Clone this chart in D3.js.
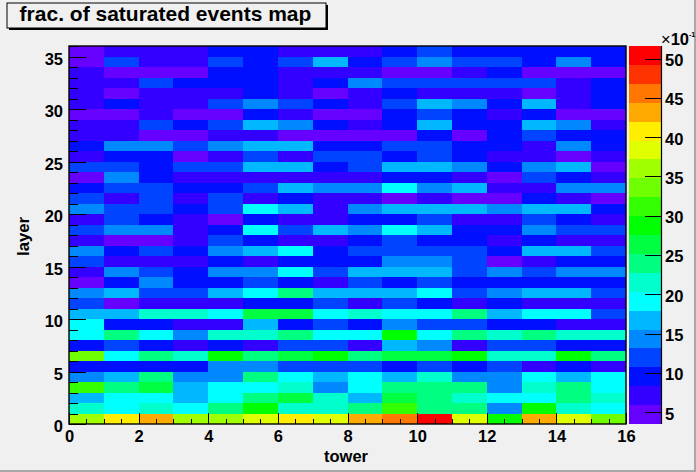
<!DOCTYPE html>
<html lang="en">

<head>
    <title>frac. of saturated events map</title>
    <meta charset="utf-8">
    <script src="https://d3js.org/d3.v7.min.js"></script>
    <style>
        html, body { margin: 0; padding: 0; background: #f0f0f0; overflow: hidden; }
        svg { display: block; }
        text { font-family: "Liberation Sans", Arial, sans-serif; font-weight: bold; fill: #000; }
    </style>
</head>

<body>
    <div id="container1"></div>
    <script>
        // Data: one row per layer, from layer 35 at the top down to layer 0 (x 10^-1)
        const layerValues = [
            [4.7, 7.1, 7.1, 7.1, 9.5, 9.5, 7.1, 7.1, 7.1, 9.5, 11.9, 9.5, 9.5, 9.5, 9.5, 9.5],
            [4.7, 11.9, 7.1, 7.1, 11.9, 9.5, 11.9, 16.7, 9.5, 11.9, 14.3, 11.9, 11.9, 9.5, 14.3, 9.5],
            [7.1, 4.7, 4.7, 4.7, 9.5, 9.5, 7.1, 7.1, 7.1, 4.7, 4.7, 7.1, 9.5, 4.7, 4.7, 4.7],
            [7.1, 7.1, 11.9, 9.5, 9.5, 9.5, 7.1, 9.5, 14.3, 11.9, 11.9, 11.9, 11.9, 11.9, 7.1, 9.5],
            [7.1, 4.7, 7.1, 7.1, 7.1, 9.5, 7.1, 4.7, 7.1, 9.5, 7.1, 7.1, 7.1, 4.7, 7.1, 9.5],
            [7.1, 9.5, 7.1, 7.1, 11.9, 14.3, 11.9, 9.5, 7.1, 11.9, 16.7, 14.3, 9.5, 16.7, 7.1, 9.5],
            [4.7, 4.7, 7.1, 4.7, 4.7, 9.5, 7.1, 4.7, 4.7, 9.5, 11.9, 9.5, 7.1, 9.5, 4.7, 4.7],
            [7.1, 7.1, 11.9, 9.5, 11.9, 16.7, 14.3, 9.5, 7.1, 9.5, 16.7, 9.5, 9.5, 16.7, 14.3, 7.1],
            [7.1, 7.1, 4.7, 4.7, 7.1, 7.1, 4.7, 4.7, 4.7, 4.7, 9.5, 4.7, 9.5, 11.9, 9.5, 9.5],
            [9.5, 14.3, 14.3, 11.9, 14.3, 16.7, 16.7, 9.5, 9.5, 11.9, 11.9, 9.5, 9.5, 7.1, 14.3, 9.5],
            [7.1, 9.5, 9.5, 4.7, 7.1, 11.9, 7.1, 11.9, 11.9, 9.5, 11.9, 9.5, 7.1, 7.1, 4.7, 7.1],
            [11.9, 11.9, 9.5, 11.9, 11.9, 16.7, 16.7, 9.5, 11.9, 16.7, 16.7, 14.3, 9.5, 14.3, 16.7, 4.7],
            [4.7, 14.3, 9.5, 7.1, 7.1, 7.1, 7.1, 7.1, 7.1, 9.5, 9.5, 7.1, 4.7, 11.9, 9.5, 7.1],
            [9.5, 11.9, 11.9, 9.5, 9.5, 11.9, 16.7, 14.3, 14.3, 19.1, 14.3, 16.7, 7.1, 7.1, 14.3, 14.3],
            [11.9, 7.1, 11.9, 7.1, 11.9, 7.1, 9.5, 7.1, 7.1, 4.7, 7.1, 4.7, 4.7, 9.5, 7.1, 4.7],
            [14.3, 11.9, 11.9, 9.5, 11.9, 19.1, 16.7, 7.1, 14.3, 16.7, 16.7, 16.7, 14.3, 16.7, 16.7, 9.5],
            [7.1, 11.9, 9.5, 7.1, 4.7, 9.5, 7.1, 7.1, 9.5, 9.5, 11.9, 7.1, 7.1, 11.9, 9.5, 7.1],
            [11.9, 14.3, 14.3, 7.1, 9.5, 19.1, 11.9, 16.7, 14.3, 19.1, 16.7, 9.5, 9.5, 14.3, 11.9, 11.9],
            [7.1, 4.7, 4.7, 7.1, 11.9, 9.5, 7.1, 7.1, 9.5, 11.9, 9.5, 9.5, 7.1, 9.5, 7.1, 7.1],
            [14.3, 9.5, 11.9, 9.5, 14.3, 16.7, 19.1, 9.5, 11.9, 11.9, 11.9, 11.9, 9.5, 16.7, 16.7, 11.9],
            [11.9, 7.1, 7.1, 7.1, 9.5, 7.1, 9.5, 9.5, 9.5, 14.3, 14.3, 11.9, 4.7, 7.1, 9.5, 9.5],
            [7.1, 14.3, 11.9, 9.5, 14.3, 14.3, 19.1, 11.9, 16.7, 16.7, 16.7, 11.9, 14.3, 11.9, 14.3, 14.3],
            [4.7, 9.5, 14.3, 9.5, 9.5, 11.9, 9.5, 7.1, 11.9, 9.5, 11.9, 9.5, 9.5, 9.5, 9.5, 9.5],
            [14.3, 16.7, 11.9, 11.9, 16.7, 19.1, 23.9, 16.7, 16.7, 16.7, 19.1, 11.9, 14.3, 16.7, 16.7, 11.9],
            [11.9, 4.7, 7.1, 7.1, 7.1, 9.5, 9.5, 11.9, 7.1, 11.9, 9.5, 7.1, 9.5, 7.1, 7.1, 7.1],
            [16.7, 16.7, 21.5, 21.5, 19.1, 26.3, 26.3, 19.1, 21.5, 19.1, 19.1, 23.9, 16.7, 19.1, 19.1, 11.9],
            [19.1, 9.5, 9.5, 7.1, 7.1, 16.7, 9.5, 11.9, 9.5, 14.3, 11.9, 11.9, 9.5, 9.5, 7.1, 7.1],
            [19.1, 23.9, 19.1, 14.3, 21.5, 21.5, 23.9, 19.1, 19.1, 28.7, 19.1, 23.9, 21.5, 23.9, 21.5, 21.5],
            [9.5, 11.9, 9.5, 7.1, 9.5, 7.1, 11.9, 11.9, 7.1, 16.7, 14.3, 7.1, 11.9, 11.9, 9.5, 9.5],
            [33.5, 19.1, 23.9, 21.5, 28.7, 23.9, 26.3, 28.7, 23.9, 26.3, 26.3, 28.7, 21.5, 21.5, 28.7, 23.9],
            [9.5, 9.5, 9.5, 9.5, 14.3, 14.3, 11.9, 11.9, 11.9, 9.5, 11.9, 9.5, 11.9, 7.1, 9.5, 7.1],
            [14.3, 16.7, 23.9, 14.3, 14.3, 23.9, 19.1, 16.7, 19.1, 16.7, 21.5, 14.3, 14.3, 19.1, 16.7, 19.1],
            [31.1, 23.9, 26.3, 16.7, 19.1, 19.1, 21.5, 14.3, 19.1, 23.9, 23.9, 23.9, 14.3, 21.5, 23.9, 19.1],
            [16.7, 19.1, 19.1, 16.7, 19.1, 23.9, 26.3, 21.5, 16.7, 26.3, 23.9, 21.5, 19.1, 19.1, 23.9, 21.5],
            [21.5, 19.1, 21.5, 19.1, 23.9, 28.7, 21.5, 21.5, 23.9, 31.1, 23.9, 23.9, 14.3, 28.7, 21.5, 19.1],
            [35.9, 40.7, 43.1, 35.9, 35.9, 38.3, 40.7, 38.3, 43.1, 45.5, 50.3, 38.3, 28.7, 43.1, 38.3, 33.5]
        ];
        const layers = d3.range(35, -1, -1);
        const towers = d3.range(0, 16);

        const paletteColors = [
            "#6600ff", "#3300ff", "#0010ff", "#0044ff", "#0088ff",
            "#00b8ff", "#00ffff", "#00ffcc", "#00ff80", "#00ff40",
            "#00ff00", "#33ff00", "#70ff00", "#a0ff00", "#e0ff00",
            "#ffee00", "#ffaa00", "#ff7700", "#ff3300", "#ff0000"
        ];
        const colorDomain = [3.5, 51.6];

        const xTicks = [0, 2, 4, 6, 8, 10, 12, 14, 16];
        const xMinorTicks = d3.range(0, 16.01, 0.5);
        const yTicks = [0, 5, 10, 15, 20, 25, 30, 35];
        const yMinorTicks = d3.range(0, 37, 1);
        const colorTicks = [5, 10, 15, 20, 25, 30, 35, 40, 45, 50];

        // Chart dimensions
        const width = 696;
        const height = 472;
        const plot = { left: 69, right: 626, top: 46, bottom: 424 };
        const bar = { left: 629, right: 661.5 };

        const svg = d3.select("#container1")
            .append("svg")
            .attr("width", width)
            .attr("height", height);

        // Canvas edges
        svg.append("rect").attr("x", 0).attr("y", 470).attr("width", width).attr("height", 2).attr("fill", "#a8a8a8");
        svg.append("rect").attr("x", 694).attr("y", 0).attr("width", 2).attr("height", height).attr("fill", "#a8a8a8");

        // Create scales
        const xScale = d3.scaleLinear().domain([0, 16]).range([plot.left, plot.right]);
        const yScale = d3.scaleLinear().domain([0, 36]).range([plot.bottom, plot.top]);
        const barScale = d3.scaleLinear().domain(colorDomain).range([plot.bottom, plot.top]);
        const colorScale = d3.scaleQuantize().domain(colorDomain).range(paletteColors);

        // Draw data
        const cells = layerValues.flatMap((row, i) =>
            row.map((value, j) => ({ layer: layers[i], tower: towers[j], value: value }))
        );

        svg.append("g")
            .attr("shape-rendering", "crispEdges")
            .selectAll("rect")
            .data(cells)
            .join("rect")
            .attr("x", d => xScale(d.tower))
            .attr("y", d => yScale(d.layer + 1))
            .attr("width", d => xScale(d.tower + 1) - xScale(d.tower))
            .attr("height", d => yScale(d.layer) - yScale(d.layer + 1))
            .attr("fill", d => colorScale(d.value));

        // Draw peripherals
        function styleAxis(g, fontSize) {
            g.select(".domain").remove();
            g.selectAll("line").attr("stroke", "#000").attr("shape-rendering", "crispEdges");
            g.selectAll("text").attr("font-size", fontSize);
        }

        svg.append("g")
            .attr("transform", `translate(0,${plot.bottom})`)
            .call(d3.axisBottom(xScale).tickValues(xMinorTicks).tickSize(-5.5).tickFormat(""))
            .call(g => styleAxis(g, 0));

        svg.append("g")
            .attr("transform", `translate(0,${plot.bottom})`)
            .call(d3.axisBottom(xScale).tickValues(xTicks).tickSizeInner(-11).tickSizeOuter(0).tickFormat(d3.format("d")))
            .call(g => styleAxis(g, 16.5))
            .call(g => g.selectAll("text").attr("y", 18).attr("dy", 0));

        svg.append("g")
            .attr("transform", `translate(${plot.left},0)`)
            .call(d3.axisLeft(yScale).tickValues(yMinorTicks).tickSize(-8.5).tickFormat(""))
            .call(g => styleAxis(g, 0));

        svg.append("g")
            .attr("transform", `translate(${plot.left},0)`)
            .call(d3.axisLeft(yScale).tickValues(yTicks).tickSizeInner(-17).tickSizeOuter(0).tickFormat(d3.format("d")))
            .call(g => styleAxis(g, 16.5))
            .call(g => g.selectAll("text").attr("x", -6).attr("y", 2).attr("dy", "0.36em"));

        svg.append("rect")
            .attr("x", plot.left)
            .attr("y", plot.top)
            .attr("width", plot.right - plot.left)
            .attr("height", plot.bottom - plot.top)
            .attr("fill", "none")
            .attr("stroke", "#000")
            .attr("stroke-width", 1.4);

        svg.append("text")
            .attr("x", 368)
            .attr("y", 462)
            .attr("text-anchor", "end")
            .attr("font-size", 16.5)
            .text("tower");

        svg.append("text")
            .attr("transform", "translate(29,256) rotate(-90)")
            .attr("font-size", 16.7)
            .text("layer");

        // Colour bar
        const bands = paletteColors.map(color => ({ color: color, range: colorScale.invertExtent(color) }));

        svg.append("g")
            .attr("shape-rendering", "crispEdges")
            .selectAll("rect")
            .data(bands)
            .join("rect")
            .attr("x", bar.left)
            .attr("y", d => barScale(d.range[1]))
            .attr("width", bar.right - bar.left)
            .attr("height", d => barScale(d.range[0]) - barScale(d.range[1]))
            .attr("fill", d => d.color);

        svg.append("g")
            .attr("transform", `translate(${bar.right},0)`)
            .call(d3.axisRight(barScale).tickValues(colorTicks).tickSizeInner(-17).tickSizeOuter(0).tickFormat(d3.format("d")))
            .call(g => styleAxis(g, 16.5))
            .call(g => g.selectAll("text").attr("x", 3.5).attr("y", 1).attr("dy", "0.36em"));

        svg.append("line")
            .attr("x1", bar.right).attr("x2", bar.right)
            .attr("y1", plot.top).attr("y2", plot.bottom)
            .attr("stroke", "#000").attr("stroke-width", 1.2);

        const exponent = svg.append("text")
            .attr("x", 661)
            .attr("y", 45)
            .attr("font-size", 16.5);
        exponent.append("tspan").style("font-weight", "normal").text("×");
        exponent.append("tspan").text("10");
        exponent.append("tspan").attr("dy", -8).attr("font-size", 7).text("-1");

        // Title box
        svg.append("rect").attr("x", 9).attr("y", 5).attr("width", 319).attr("height", 25).attr("fill", "#000");
        svg.append("rect")
            .attr("x", 7).attr("y", 3)
            .attr("width", 319).attr("height", 25)
            .attr("fill", "#f0f0f0")
            .attr("stroke", "#000")
            .attr("stroke-width", 1);

        svg.append("text")
            .attr("x", 165.5)
            .attr("y", 21)
            .attr("text-anchor", "middle")
            .attr("font-size", 21)
            .text("frac. of saturated events map");
    </script>
</body>

</html>
